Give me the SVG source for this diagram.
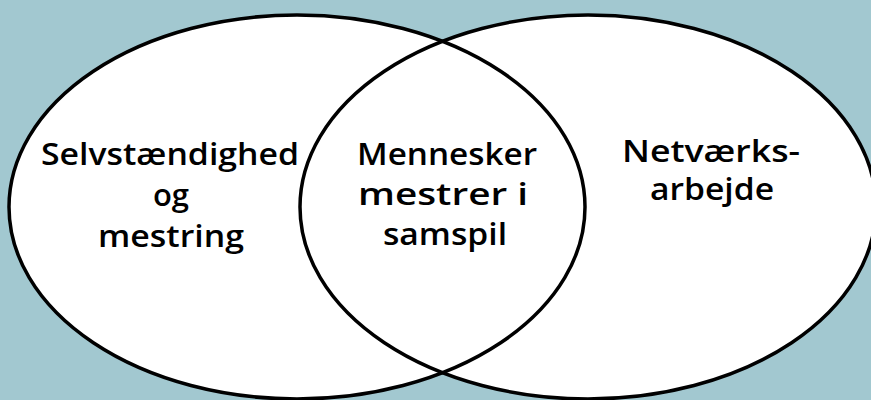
<svg xmlns="http://www.w3.org/2000/svg" width="871" height="400" viewBox="0 0 871 400">
<style>
.fill{fill:#ffffff;stroke:none}
.edge{fill:none;stroke:#000000;stroke-width:3.5}
.lbl{font-family:"Open Sans","Noto Sans","DejaVu Sans",sans-serif;font-size:31px;fill:#000000;text-anchor:middle;font-weight:600}
</style>
<rect x="0" y="0" width="871" height="400" fill="#a2c8d0"/>
<g id="shapes-fill">
<ellipse class="fill" cx="297" cy="207" rx="288" ry="192"/>
<ellipse class="fill" cx="588" cy="207" rx="288" ry="192"/>
</g>
<g id="left">
<ellipse class="edge" cx="297" cy="207" rx="288" ry="192"/>
<text class="lbl" x="170" y="165" textLength="258" lengthAdjust="spacingAndGlyphs">Selvstændighed</text>
<text class="lbl" x="171" y="206">og</text>
<text class="lbl" x="171" y="247" textLength="146" lengthAdjust="spacingAndGlyphs">mestring</text>
</g>
<g id="right">
<ellipse class="edge" cx="588" cy="207" rx="288" ry="192"/>
<text class="lbl" x="711" y="162" textLength="178" lengthAdjust="spacingAndGlyphs">Netværks-</text>
<text class="lbl" x="712" y="200" textLength="124" lengthAdjust="spacingAndGlyphs">arbejde</text>
</g>
<g id="center">
<text class="lbl" x="447" y="165" textLength="180" lengthAdjust="spacingAndGlyphs">Mennesker</text>
<text class="lbl" x="443" y="205" textLength="170" lengthAdjust="spacingAndGlyphs">mestrer i</text>
<text class="lbl" x="445" y="245" textLength="124" lengthAdjust="spacingAndGlyphs">samspil</text>
</g>
</svg>
